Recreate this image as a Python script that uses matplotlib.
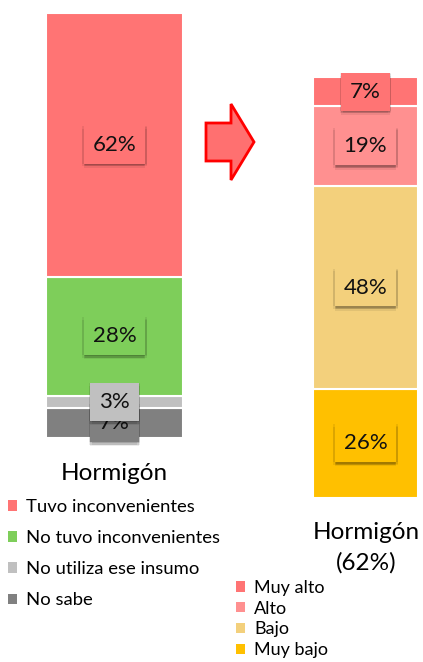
import numpy as np
import matplotlib.pyplot as plt
from matplotlib.patches import Patch, Polygon
import matplotlib.patheffects as pe

plt.rcParams['font.family'] = ['Lato', 'DejaVu Sans']

# left bar: bottom to top
left_cats = ["No sabe", "No utiliza ese insumo", "No tuvo inconvenientes", "Tuvo inconvenientes"]
left_vals = [7, 3, 28, 62]
left_colors = ["#808080", "#C0C0C0", "#7ECE5A", "#FF7474"]

# right bar: bottom to top
right_cats = ["Muy bajo", "Bajo", "Alto", "Muy alto"]
right_vals = [26, 48, 19, 7]
right_colors = ["#FFC000", "#F3D07C", "#FF9090", "#FF7474"]

left_title = "Hormigón"
right_title = "Hormigón\n(62%)"

W, H = 423, 662
fig = plt.figure(figsize=(W / 100, H / 100), dpi=100)


def px_axes(x0, y0, x1, y1):
    return fig.add_axes([x0 / W, 1 - y1 / H, (x1 - x0) / W, (y1 - y0) / H])


# soft shadow under the label boxes
soft = [pe.SimplePatchShadow(offset=o, shadow_rgbFace='#000000', alpha=0.07)
        for o in [(0, -1), (0, -2), (1, -2), (-1, -2), (0, -3), (1, -1), (-1, 0), (1, 0)]]
soft.append(pe.Normal())


def stacked(ax, vals, colors):
    bottom = 0
    for v, c in zip(vals, colors):
        ax.bar(0, v, bottom=bottom, width=1.0, color=c, edgecolor='white', linewidth=1.5)
        t = ax.text(0, bottom + v / 2, f"{v}%", ha='center', va='center', fontsize=16,
                    color='#111111',
                    bbox=dict(facecolor=c, edgecolor='none', boxstyle='square,pad=0.4'))
        t.get_bbox_patch().set_path_effects(soft)
        bottom += v
    ax.set_xlim(-0.5, 0.5)
    ax.set_ylim(0, sum(vals))
    ax.axis('off')


axl = px_axes(46, 13, 183, 438)
stacked(axl, left_vals, left_colors)
axr = px_axes(313, 77, 418, 498)
stacked(axr, right_vals, right_colors)

fig.text(114 / W, 1 - 473 / H, left_title, ha='center', va='center', fontsize=17.5)
fig.text(366 / W, 1 - 548 / H, right_title, ha='center', va='center', fontsize=17.5,
         linespacing=1.5)

# arrow
arr_ax = fig.add_axes([0, 0, 1, 1])
arr_ax.set_xlim(0, W)
arr_ax.set_ylim(H, 0)
arr_ax.axis('off')
pts = [(206, 123), (231, 123), (231, 104), (254, 142), (231, 180), (231, 161), (206, 161)]
arr_ax.add_patch(Polygon(pts, closed=True, facecolor='#FF7070', edgecolor='#FF0000', linewidth=2))

hl = [Patch(facecolor=c) for c in left_colors[::-1]]
fig.legend(hl, left_cats[::-1], loc='upper left', bbox_to_anchor=(8 / W, 1 - 499 / H),
           frameon=False, fontsize=13.3, handlelength=0.5, handleheight=0.5,
           handletextpad=0.5, labelspacing=0.82, borderpad=0, borderaxespad=0)

hr = [Patch(facecolor=c) for c in right_colors[::-1]]
fig.legend(hr, right_cats[::-1], loc='upper left', bbox_to_anchor=(236 / W, 1 - 580 / H),
           frameon=False, fontsize=13, handlelength=0.5, handleheight=0.5,
           handletextpad=0.5, labelspacing=0.26, borderpad=0, borderaxespad=0)

fig.savefig('out.png', dpi=100)
